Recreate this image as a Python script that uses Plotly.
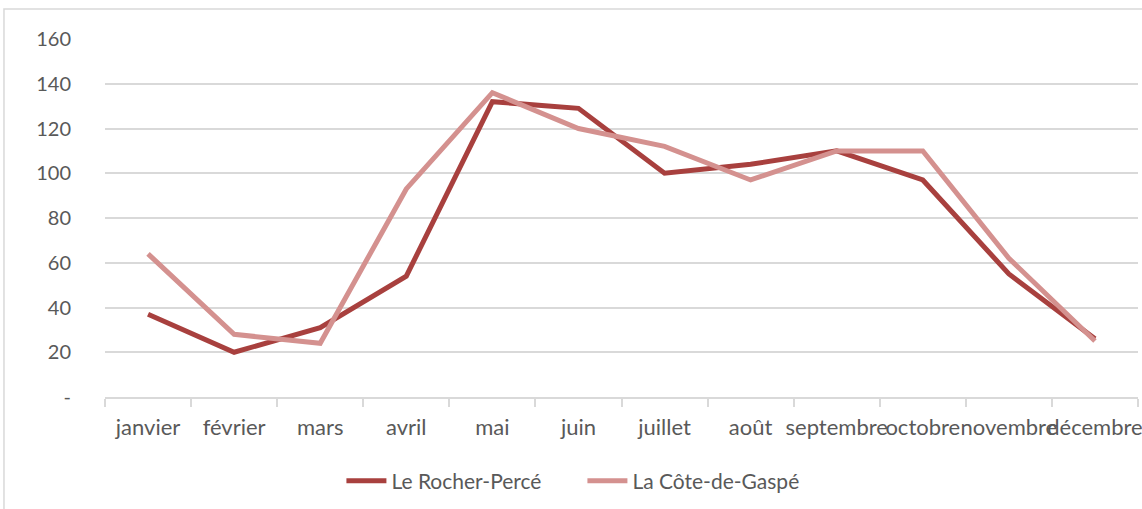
import plotly.graph_objects as go

months = ["janvier", "février", "mars", "avril", "mai", "juin", "juillet",
          "août", "septembre", "octobre", "novembre", "décembre"]
rocher_perce = [37, 20, 31, 54, 132, 129, 100, 104, 110, 97, 55, 26]
cote_gaspe = [64, 28, 24, 93, 136, 120, 112, 97, 110, 110, 62, 25]
y_ticks = [0, 20, 40, 60, 80, 100, 120, 140, 160]
y_tick_labels = ["-", "20", "40", "60", "80", "100", "120", "140", "160"]

FONT = "Lato"
TXT = "#595959"

fig = go.Figure()
fig.add_trace(go.Scatter(x=months, y=rocher_perce, mode="lines", name="Le Rocher-Percé",
                         line=dict(color="#A8403E", width=5)))
fig.add_trace(go.Scatter(x=months, y=cote_gaspe, mode="lines", name="La Côte-de-Gaspé",
                         line=dict(color="#D4918F", width=5)))

fig.update_layout(
    width=1142, height=509,
    margin=dict(l=105, r=4, t=39, b=112),
    paper_bgcolor="white", plot_bgcolor="white",
    font=dict(family=FONT, size=21, color=TXT),
    showlegend=True,
    legend=dict(orientation="h", xref="container", yref="container",
                x=0.51, xanchor="center", y=0.055, yanchor="middle",
                font=dict(family=FONT, size=21, color=TXT),
                itemwidth=40, tracegroupgap=0, entrywidth=186),
    xaxis=dict(type="category", showgrid=False, showline=True, linecolor="#D9D9D9",
               linewidth=1.5, ticks="outside", tickson="boundaries", ticklen=8,
               tickcolor="#D9D9D9", tickwidth=1.5, tickangle=0, automargin=False,
               tickfont=dict(family=FONT, size=22, color=TXT), ticklabelstandoff=10,
               range=[-0.5, 11.5]),
    yaxis=dict(range=[0, 160], tickvals=y_ticks, ticktext=y_tick_labels,
               showgrid=True, gridcolor="#D9D9D9", gridwidth=1.5, zeroline=False,
               showline=False, ticks="", ticklabelstandoff=33, automargin=False,
               tickfont=dict(family=FONT, size=20, color=TXT)),
    shapes=[dict(type="rect", xref="paper", yref="paper",
                 x0=-0.0978, x1=1.05, y0=-0.5, y1=1.0838,
                 line=dict(color="#D9D9D9", width=1.5), fillcolor="rgba(0,0,0,0)",
                 layer="below")],
)

fig.write_html("out.html", config={"displayModeBar": False},
               post_script="document.body.style.margin='0';")
